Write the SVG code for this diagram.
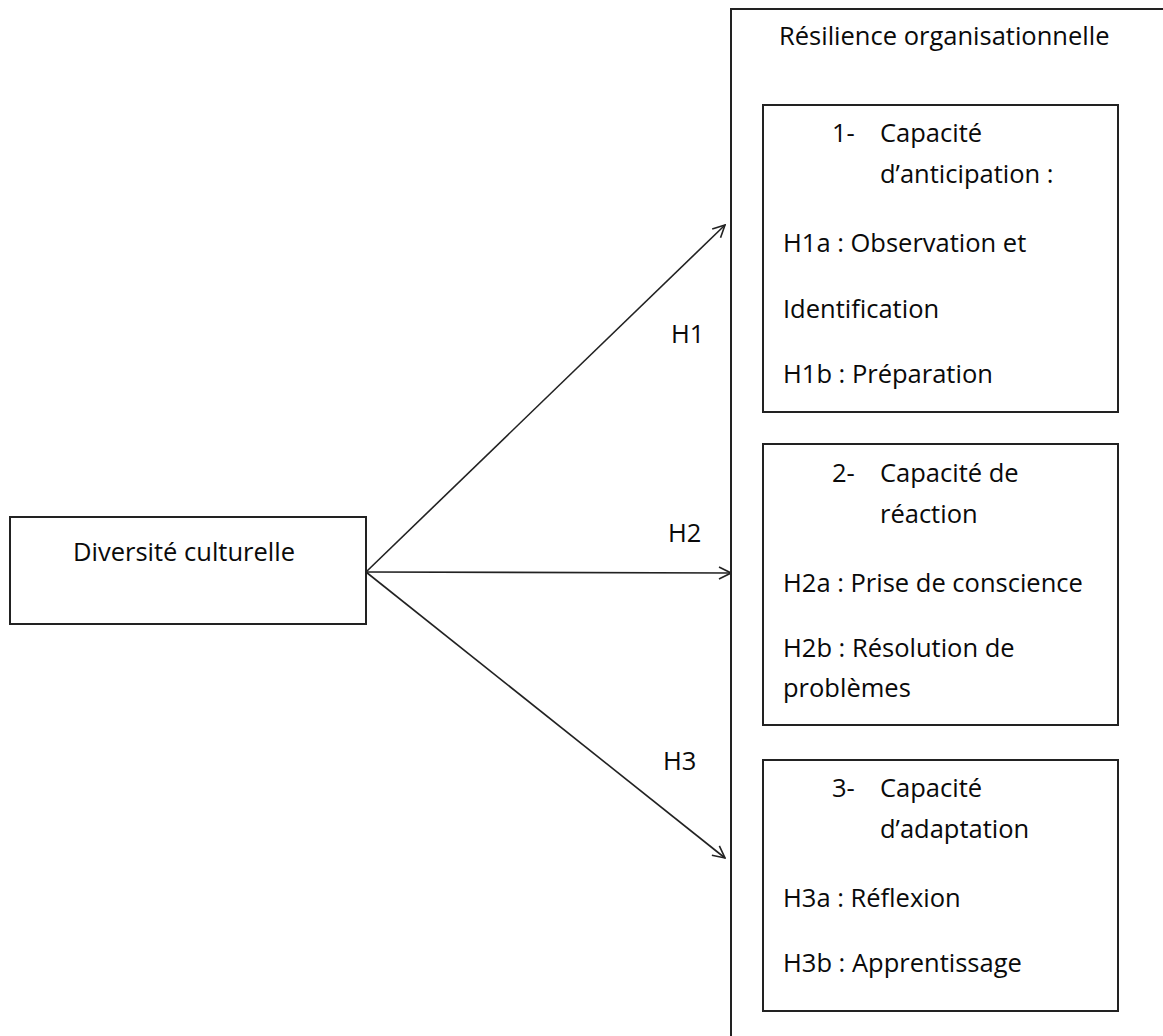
<svg xmlns="http://www.w3.org/2000/svg" width="1163" height="1036" viewBox="0 0 1163 1036">
<defs>
<style>
.box{fill:#fff;stroke:#222;stroke-width:2}
.t{font-family:"Open Sans","Liberation Sans",Arial,sans-serif;font-size:25.5px;fill:#0a0a0a}
.c{stroke:#222;stroke-width:1.6;fill:none}
</style>
<marker id="arr" viewBox="0 0 14 14" refX="13" refY="7" markerWidth="14" markerHeight="14" markerUnits="userSpaceOnUse" orient="auto">
<path d="M1,1 L13,7 L1,13" fill="none" stroke="#222" stroke-width="1.6"/>
</marker>
</defs>
<rect width="1163" height="1036" fill="#fff"/>
<g id="resilience">
<rect class="box" x="731" y="9" width="460" height="1060"/>
<text class="t" x="779" y="45">Résilience organisationnelle</text>
</g>
<g id="anticipation">
<rect class="box" x="763" y="105" width="355" height="307"/>
<text class="t" x="832" y="142">1-</text>
<text class="t" x="880" y="142">Capacité</text>
<text class="t" x="880" y="183">d’anticipation :</text>
<text class="t" x="783" y="252">H1a : Observation et</text>
<text class="t" x="783" y="318">Identification</text>
<text class="t" x="783" y="383">H1b : Préparation</text>
</g>
<g id="reaction">
<rect class="box" x="763" y="444" width="355" height="281"/>
<text class="t" x="832" y="482">2-</text>
<text class="t" x="880" y="482">Capacité de</text>
<text class="t" x="880" y="523">réaction</text>
<text class="t" x="783" y="592">H2a : Prise de conscience</text>
<text class="t" x="783" y="657">H2b : Résolution de</text>
<text class="t" x="783" y="697">problèmes</text>
</g>
<g id="adaptation">
<rect class="box" x="763" y="760" width="355" height="251"/>
<text class="t" x="832" y="797">3-</text>
<text class="t" x="880" y="797">Capacité</text>
<text class="t" x="880" y="838">d’adaptation</text>
<text class="t" x="783" y="907">H3a : Réflexion</text>
<text class="t" x="783" y="972">H3b : Apprentissage</text>
</g>
<g id="diversite">
<rect class="box" x="10" y="517" width="356" height="107"/>
<text class="t" x="73" y="561">Diversité culturelle</text>
</g>
<g id="connectors">
<line class="c" x1="366" y1="572" x2="725" y2="225" marker-end="url(#arr)"/>
<line class="c" x1="366" y1="572" x2="731" y2="573" marker-end="url(#arr)"/>
<line class="c" x1="366" y1="572" x2="725" y2="858" marker-end="url(#arr)"/>
<text class="t" x="671" y="343">H1</text>
<text class="t" x="668" y="542">H2</text>
<text class="t" x="663" y="770">H3</text>
</g>
</svg>
